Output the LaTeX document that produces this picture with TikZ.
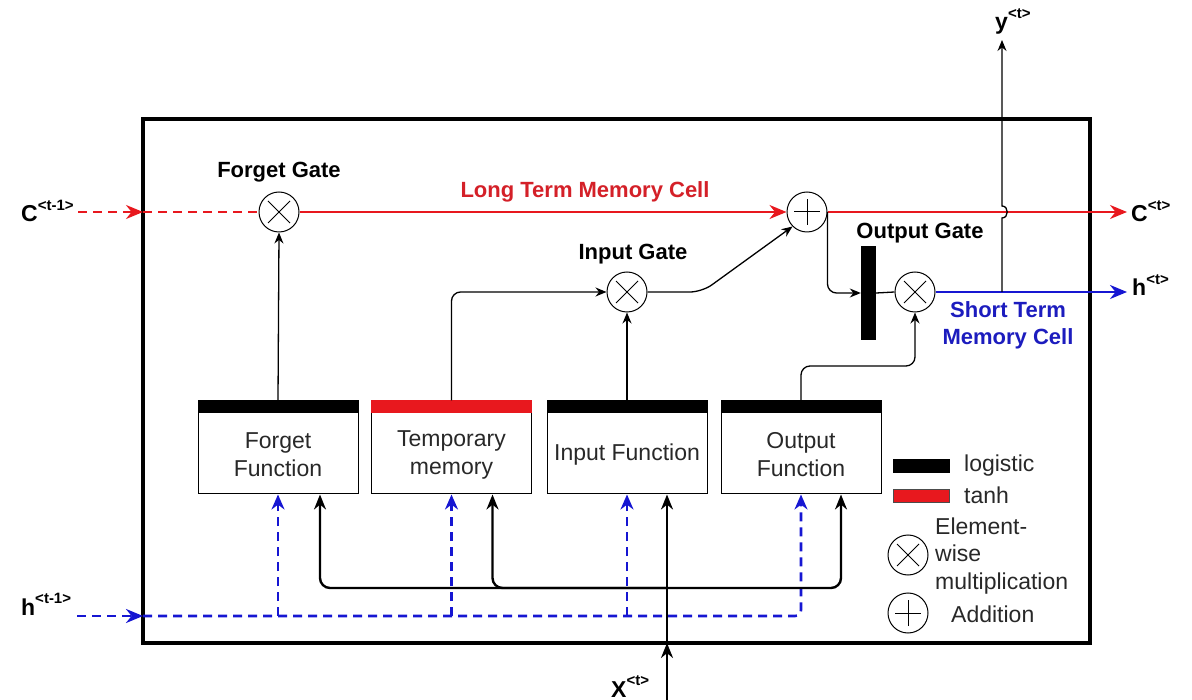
\documentclass[tikz,border=0pt]{standalone}
\usepackage{fontspec}
\setmainfont{Liberation Sans}
\usetikzlibrary{arrows.meta,calc}
\definecolor{lred}{RGB}{232,24,30}
\definecolor{lblue}{RGB}{22,22,210}
\definecolor{tred}{RGB}{212,32,40}
\definecolor{tblue}{RGB}{28,28,190}
\definecolor{txt}{RGB}{40,40,40}
\newcommand{\sups}[1]{\raisebox{0.5em}{\fontsize{15}{15}\selectfont #1}}
\begin{document}
\begin{tikzpicture}[x=1pt,y=-1pt,
  op/.style={circle,draw,line width=1pt,minimum size=40pt,inner sep=0pt},
  mul/.style={op,path picture={\draw[line width=1pt]
     ([shift={(-11pt,-11pt)}]path picture bounding box.center) -- ([shift={(11pt,11pt)}]path picture bounding box.center)
     ([shift={(-11pt,11pt)}]path picture bounding box.center) -- ([shift={(11pt,-11pt)}]path picture bounding box.center);}},
  add/.style={op,path picture={\draw[line width=1pt]
     ([shift={(-13pt,0pt)}]path picture bounding box.center) -- ([shift={(13pt,0pt)}]path picture bounding box.center)
     ([shift={(0pt,-13pt)}]path picture bounding box.center) -- ([shift={(0pt,13pt)}]path picture bounding box.center);}},
  lab/.style={font=\fontsize{22}{27}\selectfont\bfseries,inner sep=0pt},
  sym/.style={font=\fontsize{23}{27}\selectfont\bfseries,inner sep=0pt},
  fbox/.style={draw,line width=1pt,minimum width=160pt,minimum height=93pt,inner sep=0pt},
  btxt/.style={font=\fontsize{23}{28}\selectfont,text=txt,align=center,inner sep=0pt},
  ltxt/.style={font=\fontsize{23}{27.5}\selectfont,text=txt,align=left,inner sep=0pt},
  thinarr/.style={line width=1.3pt,-{Stealth[length=11pt,width=9pt]}},
  thickarr/.style={line width=2.4pt,-{Stealth[length=15pt,width=12pt]}},
  redl/.style={draw=lred,line width=2.2pt},
  redd/.style={draw=lred,line width=2.2pt,dash pattern=on 9pt off 6pt},
  bdash/.style={draw=lblue,line width=2.6pt,dash pattern=on 9pt off 6pt},
  bigtip/.style={-{Stealth[length=17pt,width=14pt]}}
]
\useasboundingbox (0,0) rectangle (1192,700);

% outer cell
\node[draw,line width=4.5pt,minimum width=947pt,minimum height=524pt,inner sep=0pt] (cell) at (616.5,381) {};

% gates
\node[mul] (fg) at (279,212) {};
\node[add] (pl) at (807,212) {};
\node[mul] (ig) at (627,292) {};
\node[mul] (og) at (915,292) {};
\node[fill=black,minimum width=15pt,minimum height=94pt,inner sep=0pt] (bar) at (868.5,293) {};

% labels
\node[lab] (fgl) at (279,172) {Forget Gate};
\node[lab,text=tred] (ltm) at (585,192) {Long Term Memory Cell};
\node[lab] (igl) at (633,254) {Input Gate};
\node[lab] (ogl) at (920,233) {Output Gate};
\node[lab,text=tblue,align=center] (stm) at (1008,325) {Short Term\\Memory Cell};

% function boxes
\node[fbox] (ff) at (278,447.5) {};
\node[fbox] (tm) at (451.5,447.5) {};
\node[fbox] (if) at (627,447.5) {};
\node[fbox] (of) at (801,447.5) {};
\fill[black] (ff.north west) rectangle ([yshift=-13pt]ff.north east);
\fill[lred] (tm.north west) rectangle ([yshift=-13pt]tm.north east);
\fill[black] (if.north west) rectangle ([yshift=-13pt]if.north east);
\fill[black] (of.north west) rectangle ([yshift=-13pt]of.north east);
\node[btxt] (fft) at (278,455) {Forget\\Function};
\node[btxt] (tmt) at (451.5,455) {Temporary\\memory};
\node[btxt] (ift) at (627,455) {Input Function};
\node[btxt] (oft) at (801,455) {Output\\Function};

% external labels
\node[sym,anchor=base west] (cprev) at (21,222) {C\sups{<t-1>}};
\node[sym,anchor=base west] (cnext) at (1131,222) {C\sups{<t>}};
\node[sym,anchor=base west] (hprev) at (21,615) {h\sups{<t-1>}};
\node[sym,anchor=base west] (hnext) at (1132,296) {h\sups{<t>}};
\node[sym,anchor=base west] (ynext) at (995,30) {y\sups{<t>}};
\node[sym,anchor=base west] (xin) at (611,697) {X\sups{<t>}};

% coordinates
\coordinate (cin) at (78,212);
\coordinate (cedge) at (143,212);
\coordinate (cout) at (1127,212);
\coordinate (hout) at (1127,292);
\coordinate (hin) at (77,616);
\coordinate (hedge) at (143,616);
\coordinate (xbot) at (667,700);
\coordinate (xedge) at (667,643);
\coordinate (j) at (667,588);
\coordinate (yb) at (1002,292);
\coordinate (yt) at (1002,40);
\coordinate (ofk) at (801,366);
\coordinate (igk) at (702,292);

% long term memory line
\draw[redd,bigtip] (cin) -- (cedge);
\draw[redd] (cedge) -- (fg.west);
\draw[redl,bigtip] (fg.east) -- (pl.west);
\draw[redl,bigtip] (pl.east) -- (cout);

% gate wiring
\draw[thinarr] (ff.north) -- (fg.south);
\draw[thinarr,rounded corners=9pt] (tm.north) |- (ig.west);
\draw[thinarr] (if.north) -- (ig.south);
\draw[thinarr,rounded corners=12pt] (ig.east) -- (igk) -- (pl.-135);
\draw[thinarr,rounded corners=9pt] (pl.east) |- (bar.west);
\draw[line width=1.3pt] (bar.east) -- (og.west);
\draw[thinarr,rounded corners=9pt] (of.north) -- (ofk) -| (og.south);

% short term memory output
\draw[draw=lblue,line width=2.4pt,bigtip] (og.east) -- (hout);
\draw[thinarr] (yb) -- (1002,218) .. controls (1009,218) and (1009,206) .. (1002,206) -- (yt);

% h(t-1) dashed inputs
\draw[bdash,bigtip] (hin) -- (hedge);
\draw[bdash,rounded corners=6pt,-{Stealth[length=15pt,width=13pt]}] (hedge) -| (of.south);
\draw[bdash,-{Stealth[length=15pt,width=13pt]}] (ff.south |- hedge) -- (ff.south);
\draw[bdash,-{Stealth[length=15pt,width=13pt]}] (tm.south |- hedge) -- (tm.south);
\draw[bdash,-{Stealth[length=15pt,width=13pt]}] (if.south |- hedge) -- (if.south);

% x(t) inputs
\draw[thickarr] (xbot) -- (xedge);
\draw[thickarr] (xedge) -- ([xshift=40pt]if.south);
\draw[thickarr,rounded corners=10pt] (j) -| ([xshift=42pt]ff.south);
\draw[thickarr,rounded corners=10pt] (j) -| ([xshift=41pt]tm.south);
\draw[thickarr,rounded corners=10pt] (j) -| ([xshift=40pt]of.south);

% legend
\node[fill=black,minimum width=57pt,minimum height=14pt,inner sep=0pt] (lgk) at (921.5,466) {};
\node[fill=lred,draw=black!70,line width=0.8pt,minimum width=56pt,minimum height=13pt,inner sep=0pt] (lgr) at (921.5,495.5) {};
\node[ltxt,anchor=west] (lgkt) at (964,466) {logistic};
\node[ltxt,anchor=west] (lgrt) at (964,495) {tanh};
\node[mul] (lgm) at (908,555) {};
\node[ltxt,anchor=west] (lgmt) at (935,556) {Element-\\wise\\multiplication};
\node[add] (lga) at (908,613) {};
\node[ltxt,anchor=west] (lgat) at (951,614) {Addition};
\end{tikzpicture}
\end{document}
